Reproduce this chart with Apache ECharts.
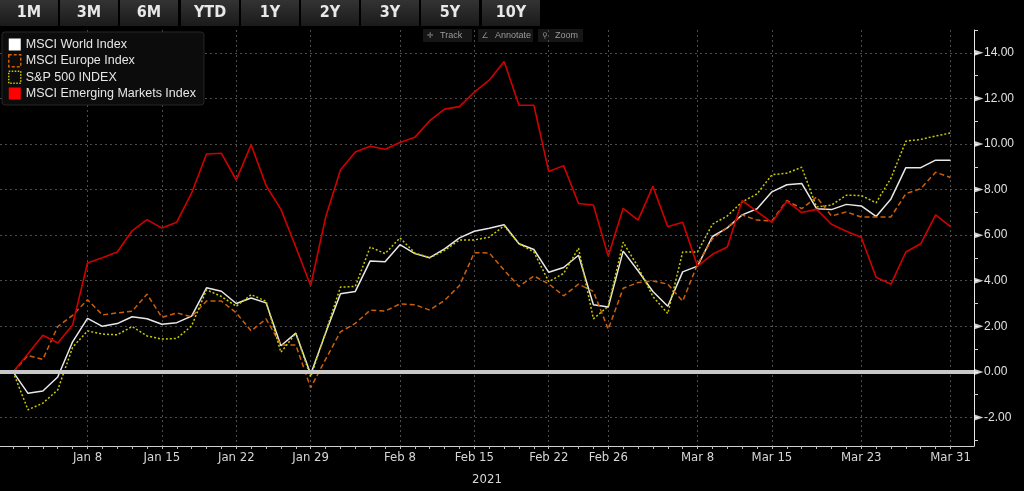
<!DOCTYPE html>
<html><head><meta charset="utf-8">
<script src="https://cdn.jsdelivr.net/npm/echarts@6/dist/echarts.min.js"></script>
<style>html,body{margin:0;padding:0;background:#000;}#c{width:1024px;height:491px;}</style>
</head><body><div id="c"></div>
<script>
// Weekday dates, Jan 1 - Mar 31 2021
const dates = ['Jan 1','Jan 4','Jan 5','Jan 6','Jan 7','Jan 8','Jan 11','Jan 12','Jan 13','Jan 14','Jan 15',
 'Jan 18','Jan 19','Jan 20','Jan 21','Jan 22','Jan 25','Jan 26','Jan 27','Jan 28','Jan 29',
 'Feb 1','Feb 2','Feb 3','Feb 4','Feb 5','Feb 8','Feb 9','Feb 10','Feb 11','Feb 12',
 'Feb 15','Feb 16','Feb 17','Feb 18','Feb 19','Feb 22','Feb 23','Feb 24','Feb 25','Feb 26',
 'Mar 1','Mar 2','Mar 3','Mar 4','Mar 5','Mar 8','Mar 9','Mar 10','Mar 11','Mar 12',
 'Mar 15','Mar 16','Mar 17','Mar 18','Mar 19','Mar 22','Mar 23','Mar 24','Mar 25','Mar 26',
 'Mar 29','Mar 30','Mar 31'];
const xTickLabels = ['Jan 8','Jan 15','Jan 22','Jan 29','Feb 8','Feb 15','Feb 22','Feb 26','Mar 8','Mar 15','Mar 23','Mar 31'];
const yTickLabels = [-2,0,2,4,6,8,10,12,14];
const yMinorTicks = [-3,-2,-1,0,1,2,3,4,5,6,7,8,9,10,11,12,13,14,15];
const seriesNames = ['MSCI World Index','MSCI Europe Index','S&P 500 INDEX','MSCI Emerging Markets Index'];
const rangeButtons = ['1M','3M','6M','YTD','1Y','2Y','3Y','5Y','10Y'];
const toolButtons = ['Track','Annotate','Zoom'];

const world = [0,-0.94,-0.84,-0.22,1.32,2.35,2.0,2.12,2.42,2.33,
 2.09,2.16,2.45,3.69,3.54,3.0,3.24,3.03,1.15,1.7,
 -0.1,1.7,3.43,3.53,4.87,4.83,5.58,5.19,5.01,5.4,
 5.88,6.17,6.3,6.46,5.62,5.37,4.37,4.58,5.12,2.95,
 2.85,5.3,4.44,3.53,2.88,4.39,4.64,5.94,6.32,6.89,
 7.16,7.9,8.21,8.27,7.16,7.12,7.35,7.28,6.82,7.59,
 8.96,8.96,9.29,9.29];
const europe = [0,0.72,0.55,1.99,2.48,3.17,2.5,2.59,2.66,3.41,
 2.39,2.59,2.42,3.11,3.11,2.59,1.8,2.33,1.18,1.18,
 -0.69,0.55,1.76,2.13,2.71,2.67,2.98,2.95,2.71,3.14,
 3.79,5.23,5.22,4.47,3.75,4.21,3.86,3.34,3.85,3.53,
 1.87,3.67,3.92,3.99,3.85,3.1,4.73,5.84,6.34,6.89,
 6.66,6.63,7.52,7.16,7.67,6.84,7.02,6.8,6.8,6.8,
 7.82,8.04,8.76,8.53];
const sp500 = [0,-1.66,-1.37,-0.79,1.08,1.8,1.66,1.63,1.99,1.58,
 1.44,1.47,2.02,3.6,3.31,2.88,3.39,3.1,0.86,1.7,
 -0.22,1.73,3.72,3.75,5.48,5.19,5.88,5.22,5.01,5.33,
 5.79,5.79,5.91,6.41,5.62,5.26,3.96,4.32,5.43,2.33,
 2.88,5.69,4.61,3.31,2.56,5.26,5.26,6.48,6.84,7.46,
 7.81,8.65,8.72,8.98,7.23,7.32,7.75,7.74,7.42,8.5,
 10.12,10.2,10.35,10.48];
const emerging = [0,0.8,1.61,1.27,2.06,4.78,5.01,5.26,6.19,6.68,
 6.31,6.57,7.85,9.56,9.59,8.42,9.97,8.18,7.13,5.48,
 3.78,6.77,8.86,9.65,9.9,9.77,10.06,10.29,11.02,11.53,
 11.64,12.28,12.8,13.62,11.7,11.7,8.79,9.05,7.39,7.32,
 5.07,7.18,6.66,8.14,6.37,6.57,4.64,5.16,5.48,7.52,
 7.03,6.56,7.49,6.99,7.13,6.48,6.17,5.91,4.15,3.85,
 5.26,5.62,6.89,6.37];

const X_MIN = -0.88, X_MAX = 64.58, Y_MIN = -3.25, Y_MAX = 15;
const labelIdx = xTickLabels.map(l => dates.indexOf(l));
const allIdx = dates.map((d, i) => i);
const narrow = '"Liberation Sans Narrow","DejaVu Sans Condensed","Liberation Sans",sans-serif';
const sans = '"Liberation Sans",Arial,sans-serif';
const gridLine = {show: true, lineStyle: {color: '#4d4d4d', type: [2, 3], width: 1}};
const pts = arr => arr.map((v, i) => [i, v]);

const graphics = [];
rangeButtons.forEach((t, i) => {
  graphics.push({type: 'group', x: Math.round(i * 60.2), y: 0, children: [
    {type: 'rect', shape: {x: 0, y: 0, width: 58, height: 26},
     style: {fill: new echarts.graphic.LinearGradient(0, 0, 0, 1, [{offset: 0, color: '#333333'}, {offset: 1, color: '#1a1a1a'}])}},
    {type: 'text', style: {text: t, x: 29, y: 13, align: 'center', verticalAlign: 'middle', fill: '#e8e8e8',
      font: 'bold 16px ' + narrow}}
  ]});
});
const toolPos = [[423, 49], [478, 55], [538, 45]];
const toolIcons = ['\u271B', '\u2220', '\u26B2'];
toolButtons.forEach((t, i) => {
  graphics.push({type: 'group', x: toolPos[i][0], y: 29, children: [
    {type: 'rect', shape: {x: 0, y: 0, width: toolPos[i][1], height: 13}, style: {fill: '#161616'}},
    {type: 'text', style: {text: toolIcons[i], x: 7, y: 7, align: 'center', verticalAlign: 'middle', fill: '#8a8a8a', font: '8px "DejaVu Sans"'}},
    {type: 'text', style: {text: t, x: 17, y: 7, align: 'left', verticalAlign: 'middle', fill: '#9a9a9a', font: '9px ' + sans}}
  ]});
});

const chart = echarts.init(document.getElementById('c'), null, {renderer: 'canvas'});
chart.setOption({
  backgroundColor: '#000',
  animation: false,
  grid: {left: 0, right: 50, top: 30, bottom: 39, containLabel: false},
  legend: {
    orient: 'vertical', left: 2, top: 32, padding: [6, 8, 5, 6], itemGap: 3,
    itemWidth: 12, itemHeight: 12, icon: 'rect',
    backgroundColor: '#0c0c0c', borderColor: '#262626', borderWidth: 1, borderRadius: 3,
    textStyle: {color: '#e6e6e6', fontSize: 12.5, fontFamily: sans},
    selectedMode: false,
    data: [
      {name: seriesNames[0], itemStyle: {color: '#ffffff', borderWidth: 0}},
      {name: seriesNames[1], itemStyle: {color: 'rgba(0,0,0,0)', borderColor: '#cc5f0c', borderWidth: 1.5, borderType: [3, 2]}},
      {name: seriesNames[2], itemStyle: {color: 'rgba(0,0,0,0)', borderColor: '#c9c900', borderWidth: 1.5, borderType: [1.5, 1.5]}},
      {name: seriesNames[3], itemStyle: {color: '#ff0000', borderWidth: 0}}
    ]
  },
  xAxis: [
    {type: 'value', min: X_MIN, max: X_MAX, position: 'bottom',
     axisLine: {show: true, onZero: false, lineStyle: {color: '#cfcfcf', width: 1}},
     axisTick: {show: false, customValues: labelIdx},
     axisLabel: {customValues: labelIdx, formatter: v => dates[Math.round(v)], color: '#d6d6d6', fontSize: 13, fontFamily: narrow, margin: 5},
     splitLine: gridLine,
     name: '2021', nameLocation: 'middle', nameGap: 27,
     nameTextStyle: {color: '#d6d6d6', fontSize: 13, fontFamily: narrow}},
    {type: 'value', min: X_MIN, max: X_MAX, position: 'bottom',
     axisLine: {show: false, onZero: false},
     axisTick: {show: true, customValues: allIdx, length: 3, lineStyle: {color: '#bdbdbd'}},
     axisLabel: {show: false}, splitLine: {show: false}}
  ],
  yAxis: [
    {type: 'value', min: Y_MIN, max: Y_MAX, position: 'right',
     axisLine: {show: true, onZero: false, lineStyle: {color: '#e6e6e6', width: 1}},
     axisTick: {show: false, customValues: yTickLabels},
     axisLabel: {customValues: yTickLabels, formatter: v => v.toFixed(2), color: '#e0e0e0', fontSize: 12, fontFamily: sans, margin: 10},
     splitLine: gridLine},
    {type: 'value', min: Y_MIN, max: Y_MAX, position: 'right',
     axisLine: {show: false, onZero: false},
     axisTick: {show: true, customValues: yMinorTicks, length: 4, inside: false, lineStyle: {color: '#d0d0d0'}},
     axisLabel: {show: false}, splitLine: {show: false}}
  ],
  graphic: graphics,
  series: [
    {name: seriesNames[0], type: 'line', data: pts(world), showSymbol: false, symbol: 'none',
     lineStyle: {color: '#e8e8e8', width: 1.5}, itemStyle: {color: '#ffffff'}, z: 3,
     markLine: {silent: true, symbol: ['none', 'none'], label: {show: false},
       lineStyle: {color: '#c8c8c8', width: 4, type: 'solid'}, data: [{yAxis: 0}]}},
    {name: seriesNames[1], type: 'line', data: pts(europe), showSymbol: false, symbol: 'none',
     lineStyle: {color: '#cc5f0c', width: 1.5, type: [5, 3]}, itemStyle: {color: '#cc5f0c'}, z: 3},
    {name: seriesNames[2], type: 'line', data: pts(sp500), showSymbol: false, symbol: 'none',
     lineStyle: {color: '#c9c900', width: 1.5, type: [2, 2]}, itemStyle: {color: '#c9c900'}, z: 3},
    {name: seriesNames[3], type: 'line', data: pts(emerging), showSymbol: false, symbol: 'none',
     lineStyle: {color: '#d00000', width: 1.6}, itemStyle: {color: '#ff0000'}, z: 3},
    {name: 'ticks', type: 'scatter', silent: true, clip: false, symbol: 'triangle', symbolRotate: -90,
     symbolSize: [6, 9], symbolOffset: [5, 0], itemStyle: {color: '#ffffff'},
     data: yTickLabels.map(v => [X_MAX, v]), z: 10}
  ]
});
</script></body></html>
